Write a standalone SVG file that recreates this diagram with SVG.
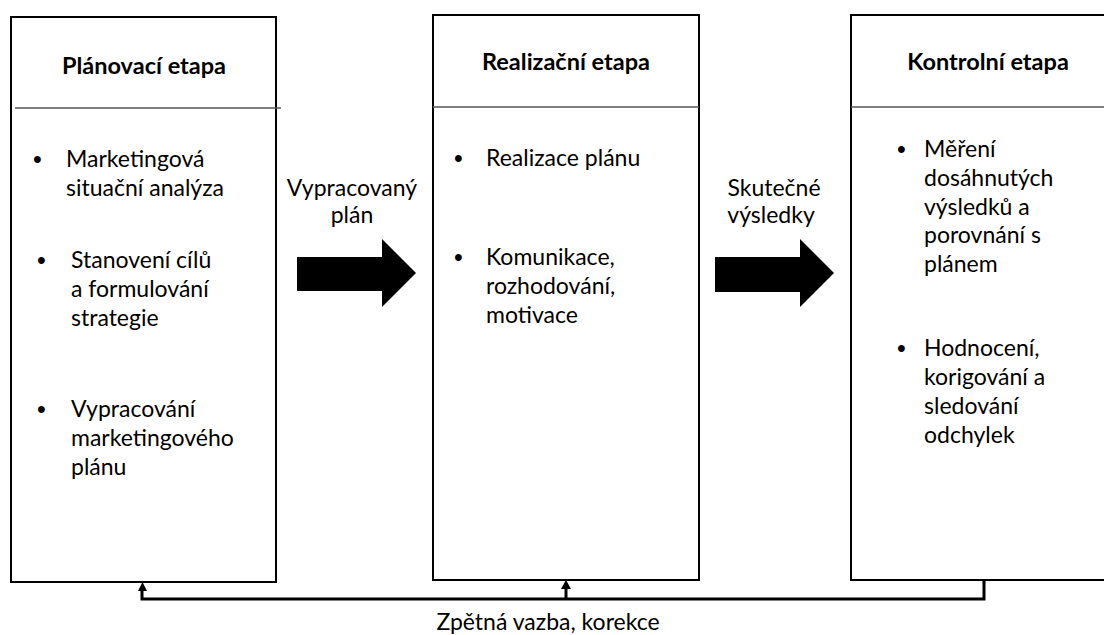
<svg xmlns="http://www.w3.org/2000/svg" width="1104" height="635" viewBox="0 0 1104 635">
<style>
.box{fill:#fff;stroke:#000;stroke-width:2}
.sep{stroke:#555;stroke-width:1.5}
.t{font-family:Lato,"Liberation Sans",sans-serif;font-size:23px;fill:#000}
.h{font-family:Lato,"Liberation Sans",sans-serif;font-size:23.5px;font-weight:bold;fill:#000}
.b{font-family:"Liberation Sans",sans-serif;font-size:25px;fill:#000}
.fb{fill:none;stroke:#000;stroke-width:3}
.arr{fill:#000}
</style>
<g id="plan">
<rect class="box" x="11" y="17" width="265" height="565"/>
<line class="sep" x1="15" y1="108" x2="281" y2="108"/>
<text class="h" x="144" y="74" text-anchor="middle">Plánovací etapa</text>
<text class="b" x="33" y="168">•</text>
<text class="t" x="66" y="167">Marketingová</text>
<text class="t" x="66" y="196">situační analýza</text>
<text class="b" x="37" y="269">•</text>
<text class="t" x="71" y="268">Stanovení cílů</text>
<text class="t" x="71" y="297">a formulování</text>
<text class="t" x="71" y="326">strategie</text>
<text class="b" x="37" y="418">•</text>
<text class="t" x="71" y="417">Vypracování</text>
<text class="t" x="71" y="446">marketingového</text>
<text class="t" x="71" y="475">plánu</text>
</g>
<g id="realizace">
<rect class="box" x="433" y="15" width="266" height="565"/>
<line class="sep" x1="433" y1="107" x2="699" y2="107"/>
<text class="h" x="566" y="70" text-anchor="middle">Realizační etapa</text>
<text class="b" x="454" y="167">•</text>
<text class="t" x="486" y="166">Realizace plánu</text>
<text class="b" x="454" y="266">•</text>
<text class="t" x="486" y="265">Komunikace,</text>
<text class="t" x="486" y="294">rozhodování,</text>
<text class="t" x="486" y="323">motivace</text>
</g>
<g id="kontrola">
<rect class="box" x="851" y="15" width="265" height="565"/>
<line class="sep" x1="851" y1="107" x2="1104" y2="107"/>
<text class="h" x="988" y="70" text-anchor="middle">Kontrolní etapa</text>
<text class="b" x="897" y="158">•</text>
<text class="t" x="924" y="157">Měření</text>
<text class="t" x="924" y="186">dosáhnutých</text>
<text class="t" x="924" y="215">výsledků a</text>
<text class="t" x="924" y="243">porovnání s</text>
<text class="t" x="924" y="272">plánem</text>
<text class="b" x="897" y="357">•</text>
<text class="t" x="924" y="356">Hodnocení,</text>
<text class="t" x="924" y="385">korigování a</text>
<text class="t" x="924" y="414">sledování</text>
<text class="t" x="924" y="443">odchylek</text>
</g>
<g id="connectors">
<polygon class="arr" points="297,257 382,257 382,239 416,273 382,307 382,291 297,291"/>
<polygon class="arr" points="715,257 800,257 800,239 834,273 800,307 800,292 715,292"/>
<text class="t" x="352" y="196" text-anchor="middle">Vypracovaný</text>
<text class="t" x="352" y="223" text-anchor="middle">plán</text>
<text class="t" x="774" y="196" text-anchor="middle">Skutečné</text>
<text class="t" x="771" y="223" text-anchor="middle">výsledky</text>
<polyline class="fb" points="984,580 984,599 142,599 142,590"/>
<line class="fb" x1="566" y1="599" x2="566" y2="588"/>
<polygon class="arr" points="138,591 147,591 142.5,582"/>
<polygon class="arr" points="561,589 571,589 566,580"/>
<text class="t" x="548" y="630" text-anchor="middle">Zpětná vazba, korekce</text>
</g>
</svg>
